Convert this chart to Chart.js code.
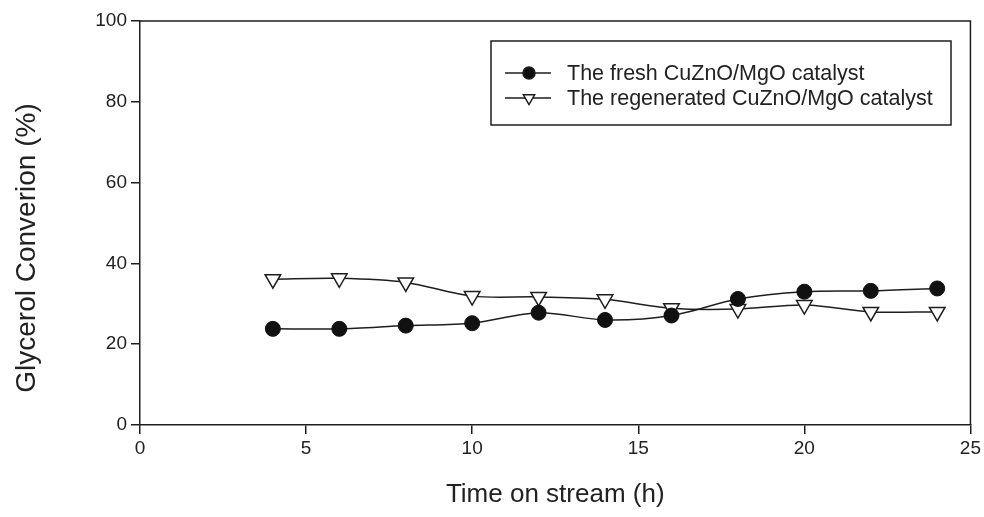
<!DOCTYPE html>
<html>
<head>
<meta charset="utf-8">
<script src="https://cdn.jsdelivr.net/npm/chart.js@4/dist/chart.umd.min.js"></script>
<style>
  html, body { margin: 0; padding: 0; background: #fff; }
  #wrap { width: 984px; height: 517px; position: relative; }
</style>
</head>
<body>
<div id="wrap"><canvas id="c" width="984" height="517"></canvas></div>
<script>
const hours = [4, 6, 8, 10, 12, 14, 16, 18, 20, 22, 24];
const freshConversion = [23.8, 23.8, 24.6, 25.2, 27.8, 26.0, 27.1, 31.2, 33.0, 33.2, 33.8];
const regeneratedConversion = [36.1, 36.3, 35.3, 31.9, 31.7, 31.1, 28.9, 28.7, 29.7, 28.0, 28.0];
const xTicks = [0, 5, 10, 15, 20, 25];
const yTicks = [0, 20, 40, 60, 80, 100];
const seriesNames = ['The fresh CuZnO/MgO catalyst', 'The regenerated CuZnO/MgO catalyst'];
const xTitle = 'Time on stream (h)';
const yTitle = 'Glycerol Converion (%)';

const FONT = '"Liberation Sans", Arial, sans-serif';
const INK = '#1e1e1e';
const TEXT = '#222';

function pts(ys) { return hours.map((h, i) => ({ x: h, y: ys[i] })); }

const frameAndLegend = {
  id: 'frameAndLegend',
  afterDatasetsDraw(chart) {
    const { ctx, chartArea: a } = chart;
    ctx.save();
    ctx.strokeStyle = INK;
    ctx.lineWidth = 1.5;
    ctx.beginPath();
    ctx.moveTo(a.left, a.top);
    ctx.lineTo(a.right, a.top);
    ctx.lineTo(a.right, a.bottom);
    ctx.stroke();

    // axis titles
    ctx.fillStyle = TEXT;
    ctx.textAlign = 'center';
    ctx.textBaseline = 'middle';
    ctx.font = '26px ' + FONT;
    ctx.fillText(xTitle, (a.left + a.right) / 2, 495);
    ctx.save();
    ctx.translate(27, 248);
    ctx.rotate(-Math.PI / 2);
    ctx.font = '28px ' + FONT;
    ctx.fillText(yTitle, 0, 0);
    ctx.restore();

    // legend box
    const bx = 491, by = 41, bw = 460, bh = 84;
    ctx.strokeStyle = INK;
    ctx.lineWidth = 1.5;
    ctx.strokeRect(bx, by, bw, bh);
    const rows = [73, 98];
    chart.data.datasets.forEach((ds, i) => {
      const y = rows[i];
      ctx.strokeStyle = INK;
      ctx.lineWidth = 1.5;
      ctx.beginPath();
      ctx.moveTo(505, y);
      ctx.lineTo(551, y);
      ctx.stroke();
      ctx.fillStyle = ds.pointBackgroundColor;
      ctx.strokeStyle = INK;
      Chart.helpers.drawPoint(ctx, {
        pointStyle: ds.pointStyle,
        rotation: ds.pointRotation || 0,
        radius: i === 0 ? 6 : 6.5,
        borderWidth: 1.5
      }, 529, y);
      ctx.fillStyle = TEXT;
      ctx.font = '21.5px ' + FONT;
      ctx.textBaseline = 'middle';
      ctx.textAlign = 'left';
      ctx.fillText(ds.label, 567, y + 1);
    });
    ctx.restore();
  }
};

new Chart(document.getElementById('c'), {
  type: 'scatter',
  data: {
    datasets: [
      {
        label: seriesNames[0],
        data: pts(freshConversion),
        showLine: true,
        borderColor: INK,
        borderWidth: 1.5,
        tension: 0.3,
        pointStyle: 'circle',
        pointRadius: 7.5,
        pointBackgroundColor: '#111',
        pointBorderColor: '#111',
        pointBorderWidth: 1
      },
      {
        label: seriesNames[1],
        data: pts(regeneratedConversion),
        showLine: true,
        borderColor: INK,
        borderWidth: 1.5,
        tension: 0.3,
        pointStyle: 'triangle',
        pointRotation: 180,
        pointRadius: 9,
        pointBackgroundColor: '#fff',
        pointBorderColor: INK,
        pointBorderWidth: 1.5
      }
    ]
  },
  options: {
    responsive: false,
    animation: false,
    layout: { padding: { top: 21, right: 13, left: 0, bottom: 0 } },
    plugins: { legend: { display: false }, tooltip: { enabled: false } },
    scales: {
      x: {
        type: 'linear',
        min: 0, max: 25,
        afterBuildTicks(s) { s.ticks = xTicks.map(v => ({ value: v })); },
        afterFit(s) { s.height = 92; },
        border: { display: true, color: INK, width: 1.5 },
        grid: { display: true, drawOnChartArea: false, drawTicks: true, tickLength: 9, color: INK, lineWidth: 1.5 },
        ticks: { color: TEXT, font: { family: FONT, size: 19 }, padding: 3, maxRotation: 0 },
        title: { display: false }
      },
      y: {
        min: 0, max: 100,
        afterBuildTicks(s) { s.ticks = yTicks.map(v => ({ value: v })); },
        afterFit(s) { s.width = 140; },
        border: { display: true, color: INK, width: 1.5 },
        grid: { display: true, drawOnChartArea: false, drawTicks: true, tickLength: 9, color: INK, lineWidth: 1.5 },
        ticks: { color: TEXT, font: { family: FONT, size: 19 }, padding: 4 },
        title: { display: false }
      }
    }
  },
  plugins: [frameAndLegend]
});
</script>
</body>
</html>
